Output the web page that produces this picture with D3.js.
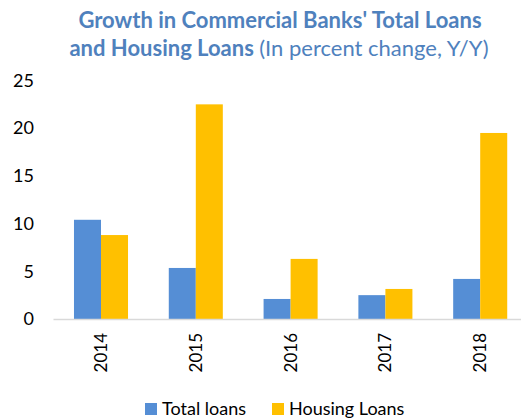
<!DOCTYPE html>
<html>
<head>
<meta charset="utf-8">
<script src="https://cdn.jsdelivr.net/npm/d3@7"></script>
<style>
  html, body { margin: 0; padding: 0; background: #fff; }
  svg { display: block; font-family: Lato, "Open Sans", sans-serif; }
</style>
</head>
<body>
<svg id="chart" width="521" height="419"></svg>
<script>
// Year-on-year growth of commercial banks' loans, percent
const years = ["2014", "2015", "2016", "2017", "2018"];
const totalLoans = [10.4, 5.35, 2.1, 2.5, 4.2];
const housingLoans = [8.8, 22.5, 6.3, 3.15, 19.5];
const seriesNames = ["Total loans", "Housing Loans"];
const yTicks = [0, 5, 10, 15, 20, 25];

const colors = ["#558ed5", "#ffc000"];
const series = [totalLoans, housingLoans];

const svg = d3.select("#chart");

// Title
const title = svg.append("text")
  .attr("text-anchor", "middle")
  .attr("fill", "#4f81bd")
  .style("font-size", "22px");
title.append("tspan")
  .attr("x", 280).attr("y", 28)
  .attr("font-weight", "bold")
  .text("Growth in Commercial Banks' Total Loans");
const line2 = title.append("tspan")
  .attr("x", 279).attr("y", 56);
line2.append("tspan").attr("font-weight", "bold").text("and Housing Loans ");
line2.append("tspan").text("(In percent change, Y/Y)");

// Scales
const x = d3.scaleBand()
  .domain(years)
  .range([53.6, 527.6])
  .paddingInner(0.43)
  .paddingOuter(0.215);

const xInner = d3.scaleBand()
  .domain(d3.range(series.length))
  .range([0, x.bandwidth()]);

const y = d3.scaleLinear()
  .domain([0, 25])
  .range([319, 80.5]);

// Y axis labels (no line, no ticks)
const yAxis = svg.append("g")
  .attr("transform", "translate(34,0)")
  .call(d3.axisLeft(y).tickValues(yTicks).tickSize(0).tickPadding(0));
yAxis.select(".domain").remove();
yAxis.selectAll("text")
  .attr("fill", "#000")
  .style("font-size", "18px")
  .style("font-family", "Lato, 'Open Sans', sans-serif");

// Bars
years.forEach((yr, i) => {
  series.forEach((vals, s) => {
    svg.append("rect")
      .attr("x", x(yr) + xInner(s))
      .attr("y", y(vals[i]))
      .attr("width", xInner.bandwidth())
      .attr("height", y(0) - y(vals[i]))
      .attr("fill", colors[s]);
  });
});

// X axis with rotated year labels
const xAxis = svg.append("g")
  .attr("transform", `translate(0,${y(0)})`)
  .call(d3.axisBottom(x).tickSize(0).tickPadding(0));
xAxis.select(".domain")
  .attr("d", "M53.5,0.5H521")
  .attr("stroke", "#d9d9d9")
  .attr("stroke-width", 1.5);
xAxis.selectAll("text")
  .attr("fill", "#000")
  .style("font-size", "17px")
  .style("font-family", "Lato, 'Open Sans', sans-serif")
  .attr("text-anchor", "end")
  .attr("dy", "0.35em")
  .attr("transform", "translate(0,14) rotate(-90)")
  .attr("y", 0)
  .attr("x", 0);

// Legend
const legendItems = [
  { name: seriesNames[0], color: colors[0], x: 145 },
  { name: seriesNames[1], color: colors[1], x: 272 }
];
const legend = svg.append("g");
legendItems.forEach(d => {
  legend.append("rect")
    .attr("x", d.x).attr("y", 403)
    .attr("width", 12).attr("height", 12)
    .attr("fill", d.color);
  legend.append("text")
    .attr("x", d.x + 17).attr("y", 415)
    .attr("fill", "#000")
    .style("font-size", "18px")
    .text(d.name);
});
</script>
</body>
</html>
